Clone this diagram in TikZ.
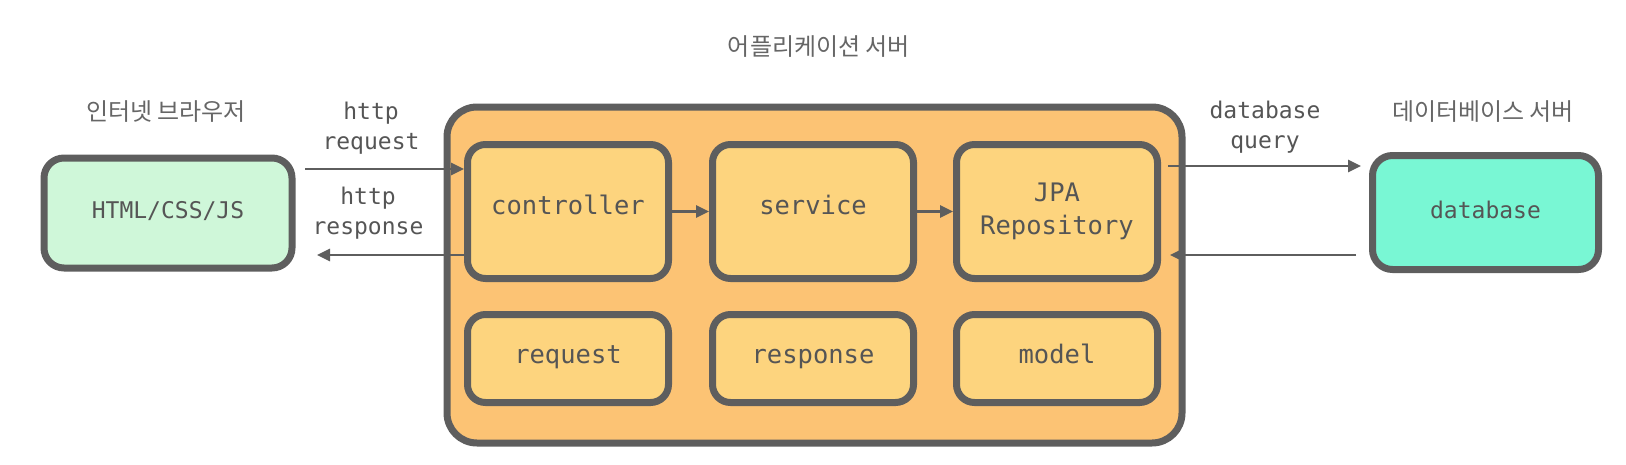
\documentclass[tikz,border=0pt]{standalone}
\usepackage{fontspec}
\setmonofont{DejaVu Sans Mono}
\newfontfamily\kr{Noto Sans CJK KR}
\usetikzlibrary{arrows.meta}
\definecolor{strk}{HTML}{5E5E5E}
\definecolor{txt}{HTML}{555555}
\definecolor{krtxt}{HTML}{666666}
\definecolor{outerfill}{HTML}{FCC374}
\definecolor{innerfill}{HTML}{FDD47E}
\definecolor{htmlfill}{HTML}{CFF7D9}
\definecolor{dbfill}{HTML}{79F7D4}
\tikzset{
  bigmono/.style={font=\fontsize{25.5}{33}\selectfont\ttfamily, text=txt},
  smallmono/.style={font=\fontsize{23}{30}\selectfont\ttfamily, text=txt},
  krlabel/.style={font=\fontsize{24}{28}\selectfont\kr, text=krtxt},
  appbox/.style={draw=strk, line width=7pt, rounded corners=30pt, fill=outerfill, minimum width=735pt, minimum height=336pt},
  innerbox/.style={draw=strk, line width=7pt, rounded corners=18pt, fill=innerfill, minimum width=201pt, bigmono, align=center},
  toprow/.style={innerbox, minimum height=134pt},
  toptext/.style={text height=18pt, text depth=12pt},
  botrow/.style={innerbox, minimum height=88pt, text height=18pt, text depth=8pt},
  sidebox/.style={draw=strk, line width=7pt, rounded corners=20pt, smallmono, text height=17pt, text depth=6pt},
  arr/.style={draw=strk, line width=2.6pt, -{Triangle[length=13pt,width=12pt]}},
}
\begin{document}
\begin{tikzpicture}[x=1pt,y=-1pt]
\useasboundingbox (0,0) rectangle (1626,464);
% titles
\node[krlabel] (tapp) at (819,47) {어플리케이션 서버};
\node[krlabel] (tbrow) at (166,112) {인터넷 브라우저};
\node[krlabel] (tdb) at (1483,112) {데이터베이스 서버};
% side boxes
\node[sidebox, fill=htmlfill, minimum width=248pt, minimum height=110pt] (html) at (168,213) {HTML/CSS/JS};
\node[sidebox, fill=dbfill, minimum width=226pt, minimum height=114pt] (db) at (1485.5,212.5) {database};
% app server
\node[appbox] (app) at (814.5,275) {};
\node[toprow, toptext] (ctrl) at (568,211.5) {controller};
\node[toprow, toptext] (svc) at (813,211.5) {service};
\node[toprow] (jpa) at (1057,211.5) {JPA\\Repository};
\node[botrow] (req) at (568,358.5) {request};
\node[botrow] (res) at (813,358.5) {response};
\node[botrow] (model) at (1057,358.5) {model};
% labels
\node[smallmono, align=center] (lreq) at (371,128) {http\\request};
\node[smallmono, align=center] (lres) at (368,213) {http\\response};
\node[smallmono, align=center] (lq) at (1265,127) {database\\query};
% arrows
\coordinate (reqs) at (305,169);
\draw[arr] (reqs) -- (reqs -| ctrl.west);
\coordinate (rese) at (317,255);
\draw[arr, shorten <=-5pt] (rese -| ctrl.west) -- (rese);
\draw[arr] (ctrl.east) -- (svc.west);
\draw[arr] (svc.east) -- (jpa.west);
\coordinate (qs) at (1168,166);
\draw[arr, shorten >=8pt] (qs) -- (qs -| db.west);
\coordinate (rs) at (1170,255);
\draw[arr, shorten <=13pt] (rs -| db.west) -- (rs);
\end{tikzpicture}
\end{document}
